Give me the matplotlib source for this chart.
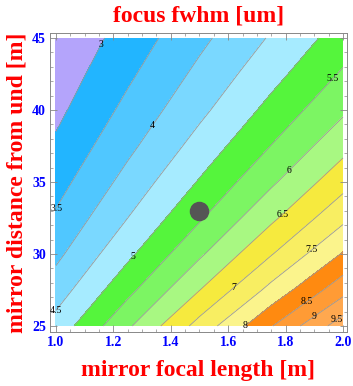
import numpy as np
import matplotlib.pyplot as plt
from matplotlib.ticker import MultipleLocator

# 読み取った値 (focus fwhm [um])
focal = [1.0, 1.25, 1.5, 1.75, 2.0]
dist = [25, 27.5, 30, 32.5, 35, 37.5, 40, 42.5, 45]
fwhm = [
    [4.69, 5.92, 7.18, 8.47, 9.78],
    [4.25, 5.36, 6.49, 7.65, 8.82],
    [3.88, 4.89, 5.92, 6.97, 8.04],
    [3.57, 4.50, 5.44, 6.40, 7.38],
    [3.31, 4.17, 5.04, 5.92, 6.82],
    [3.08, 3.88, 4.69, 5.51, 6.34],
    [2.88, 3.63, 4.38, 5.15, 5.92],
    [2.71, 3.41, 4.12, 4.83, 5.56],
    [2.56, 3.21, 3.88, 4.55, 5.23],
]
levels = [3, 3.5, 4, 4.5, 5, 5.5, 6, 6.5, 7, 7.5, 8, 8.5, 9, 9.5]
point_f, point_d = [1.5], [33]

colors = ['#b4a4fb', '#22b5ff', '#50c7ff', '#7ad8ff', '#a6ebff',
          '#55f53c', '#7cf563', '#a8f882', '#f6ea3e', '#f8ee62',
          '#fbf48c', '#ff8a10', '#ff9b35', '#ffa84f', '#ffb264']

F, D = np.meshgrid(focal, dist)
Z = np.array(fwhm)

fig = plt.figure(figsize=(3.53, 3.86), dpi=100)
ax = fig.add_axes([0.1416, 0.140, 0.8414, 0.7745])

ax.contourf(F, D, Z, levels=[0] + levels + [100], colors=colors)
cs = ax.contour(F, D, Z, levels=levels, colors='#999999', linewidths=0.6)
lab_pos = [(1.15, 44.6), (1.0, 33.2), (1.34, 38.9), (1.0, 26.0), (1.27, 29.8),
           (1.965, 42.2), (1.81, 35.8), (1.79, 32.7), (1.62, 27.6), (1.89, 30.3),
           (1.66, 25.0), (1.875, 26.7), (1.90, 25.6), (1.98, 25.4)]
txts = ax.clabel(cs, levels, inline=False, manual=lab_pos, fontsize=7,
                 colors='black', fmt=lambda v: f'{v:g}')
for t in txts:
    t.set_rotation(0)
    t.set_fontfamily('Liberation Serif')
    t.set_clip_on(False)

ax.scatter(point_f, point_d, s=170, color='#555555', zorder=5)

ax.set_xlim(1 - 6 / 287, 2 + 4 / 287)
ax.set_ylim(25 - 6 / 14.4, 45 + 5 / 14.4)
ax.xaxis.set_major_locator(MultipleLocator(0.2))
ax.xaxis.set_minor_locator(MultipleLocator(0.05))
ax.yaxis.set_major_locator(MultipleLocator(5))
ax.yaxis.set_minor_locator(MultipleLocator(1))
ax.xaxis.set_major_formatter(lambda v, p: f'{v:.1f}')
ax.yaxis.set_major_formatter(lambda v, p: f'{v:.0f}')
ax.tick_params(which='both', direction='in', top=True, right=True, color='#888888')
ax.tick_params(which='major', length=5, width=0.6)
ax.tick_params(which='minor', length=2.5, width=0.5)
ax.tick_params(labelsize=10, labelcolor='#0000ff', pad=3)
for t in ax.get_xticklabels() + ax.get_yticklabels():
    t.set_fontfamily('Liberation Serif')
    t.set_fontweight('bold')
for s in ax.spines.values():
    s.set_color('#888888')
    s.set_linewidth(0.7)

lab = dict(color='red', fontweight='bold', family='Liberation Serif', fontsize=17)
ax.set_title('focus fwhm [um]', pad=8, **lab)
ax.set_xlabel('mirror focal length [m]', labelpad=8, **lab)
ax.set_ylabel('mirror distance from und [m]', labelpad=3, **lab)

fig.savefig('out.png', dpi=100)
